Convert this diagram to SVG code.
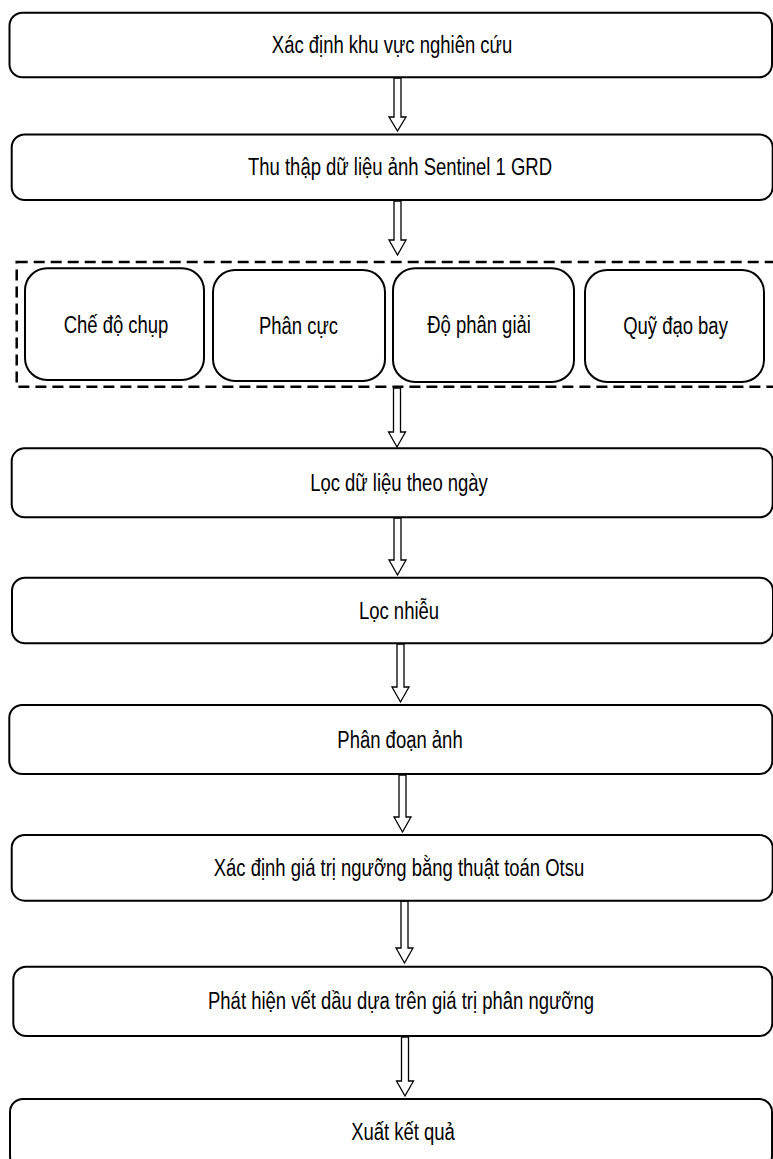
<svg xmlns="http://www.w3.org/2000/svg" width="773" height="1159" viewBox="0 0 773 1159">
<style>
.box{fill:#fff;stroke:#000;stroke-width:2}
.dash{fill:none;stroke:#000;stroke-width:2.5;stroke-dasharray:11 6}
.arr{fill:#fff;stroke:#000;stroke-width:1.3;stroke-linejoin:miter}
text{font-family:"Liberation Sans",Arial,sans-serif;font-size:24px;fill:#000;text-anchor:middle;dominant-baseline:central}
</style>
<rect width="773" height="1159" fill="#fff"/>
<g id="connectors">
<polygon class="arr" points="394,78 401,78 401,117 406,117 397.5,131 389,117 394,117"/>
<polygon class="arr" points="394,201 401,201 401,240 406,240 397.5,255 389,240 394,240"/>
<polygon class="arr" points="393.5,388 400.5,388 400.5,432 405.5,432 397,447 388.5,432 393.5,432"/>
<polygon class="arr" points="394,518 401,518 401,560 406,560 397.5,575 389,560 394,560"/>
<polygon class="arr" points="397,644 404,644 404,687 409,687 400.5,702 392,687 397,687"/>
<polygon class="arr" points="399,775 406,775 406,817 411,817 402.5,832 394,817 399,817"/>
<polygon class="arr" points="401,901 408,901 408,948 413,948 404.5,963 396,948 401,948"/>
<polygon class="arr" points="401.5,1037 408.5,1037 408.5,1081 413.5,1081 405,1096 396.5,1081 401.5,1081"/>
</g>
<g id="n1"><rect class="box" x="9.5" y="12.7" width="762.5" height="64.6" rx="13"/><text transform="translate(392,45) scale(0.77,1)">Xác định khu vực nghiên cứu</text></g>
<g id="n2"><rect class="box" x="11.7" y="134.5" width="761" height="65.5" rx="13"/><text transform="translate(400,167) scale(0.77,1)">Thu thập dữ liệu ảnh Sentinel 1 GRD</text></g>
<g id="group"><rect class="dash" x="16.7" y="262" width="760" height="124.7"/></g>
<g id="p1"><rect class="box" x="25" y="268.3" width="179" height="111.7" rx="22"/><text transform="translate(116,325) scale(0.77,1)">Chế độ chụp</text></g>
<g id="p2"><rect class="box" x="213" y="270" width="172" height="111" rx="22"/><text transform="translate(298.5,326) scale(0.77,1)">Phân cực</text></g>
<g id="p3"><rect class="box" x="393" y="268.3" width="181" height="113.7" rx="22"/><text transform="translate(479,325) scale(0.77,1)">Độ phân giải</text></g>
<g id="p4"><rect class="box" x="585" y="270" width="179" height="112" rx="22"/><text transform="translate(675.5,326) scale(0.77,1)">Quỹ đạo bay</text></g>
<g id="n3"><rect class="box" x="11.7" y="448.3" width="761" height="69" rx="13"/><text transform="translate(399,483) scale(0.77,1)">Lọc dữ liệu theo ngày</text></g>
<g id="n4"><rect class="box" x="12" y="577.7" width="761" height="65.6" rx="13"/><text transform="translate(399,611) scale(0.77,1)">Lọc nhiễu</text></g>
<g id="n5"><rect class="box" x="9.3" y="705" width="763" height="69" rx="13"/><text transform="translate(400,740) scale(0.77,1)">Phân đoạn ảnh</text></g>
<g id="n6"><rect class="box" x="11.7" y="835" width="761" height="65.7" rx="13"/><text transform="translate(399,868) scale(0.77,1)">Xác định giá trị ngưỡng bằng thuật toán Otsu</text></g>
<g id="n7"><rect class="box" x="13.3" y="966.7" width="759" height="69.3" rx="13"/><text transform="translate(401,1001) scale(0.77,1)">Phát hiện vết dầu dựa trên giá trị phân ngưỡng</text></g>
<g id="n8"><rect class="box" x="10" y="1099" width="762" height="70" rx="13"/><text transform="translate(403,1132) scale(0.77,1)">Xuất kết quả</text></g>
</svg>
